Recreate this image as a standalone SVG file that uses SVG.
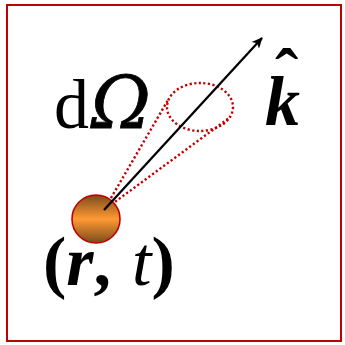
<svg xmlns="http://www.w3.org/2000/svg" width="345" height="345" viewBox="0 0 345 345">
<defs>
<style>
.dot{fill:none;stroke:#c00000;stroke-width:2.4;stroke-dasharray:2.2 2.4}
.lbl{font-family:"Liberation Serif","Times New Roman",serif;font-size:70px;fill:#000}
</style>
<linearGradient id="g" x1="0" y1="0" x2="0" y2="1">
<stop offset="0" stop-color="#7a4a1c"/>
<stop offset="0.5" stop-color="#ff9a33"/>
<stop offset="1" stop-color="#7a4a1c"/>
</linearGradient>
<marker id="ah" viewBox="0 0 12 12" refX="10" refY="6" markerWidth="12" markerHeight="12" markerUnits="userSpaceOnUse" orient="auto">
<path d="M0,1 L11,6 L0,11 L3,6 Z" fill="#000"/>
</marker>
</defs>
<rect x="7" y="5" width="334" height="336" fill="#fff" stroke="#c00000" stroke-width="2"/>
<g id="cone">
<ellipse class="dot" cx="200" cy="107" rx="33" ry="24"/>
<path class="dot" d="M104,210 L168,100"/>
<path class="dot" d="M104,210 L229,118"/>
</g>
<g id="particle">
<circle cx="96" cy="219" r="24" fill="url(#g)" stroke="#c00000" stroke-width="1.6"/>
</g>
<g id="connectors">
<line x1="104" y1="210" x2="262" y2="38" stroke="#000" stroke-width="2.3" marker-end="url(#ah)"/>
</g>
<g id="label-domega">
<text class="lbl" x="54" y="128" font-size="72">d<tspan dx="2" font-family="'DejaVu Serif',serif" font-style="italic" font-size="72" stroke="#000" stroke-width="0.8">Ω</tspan></text>
</g>
<g id="label-k">
<text class="lbl" x="265" y="125" font-weight="bold" font-style="italic">k<tspan font-style="normal" dx="-25" dy="-28">ˆ</tspan></text>
</g>
<g id="label-rt">
<text class="lbl" x="43" y="285" font-weight="bold">(<tspan font-style="italic">r</tspan>,<tspan dx="21" font-style="italic" font-weight="normal">t</tspan>)</text>
</g>
</svg>
